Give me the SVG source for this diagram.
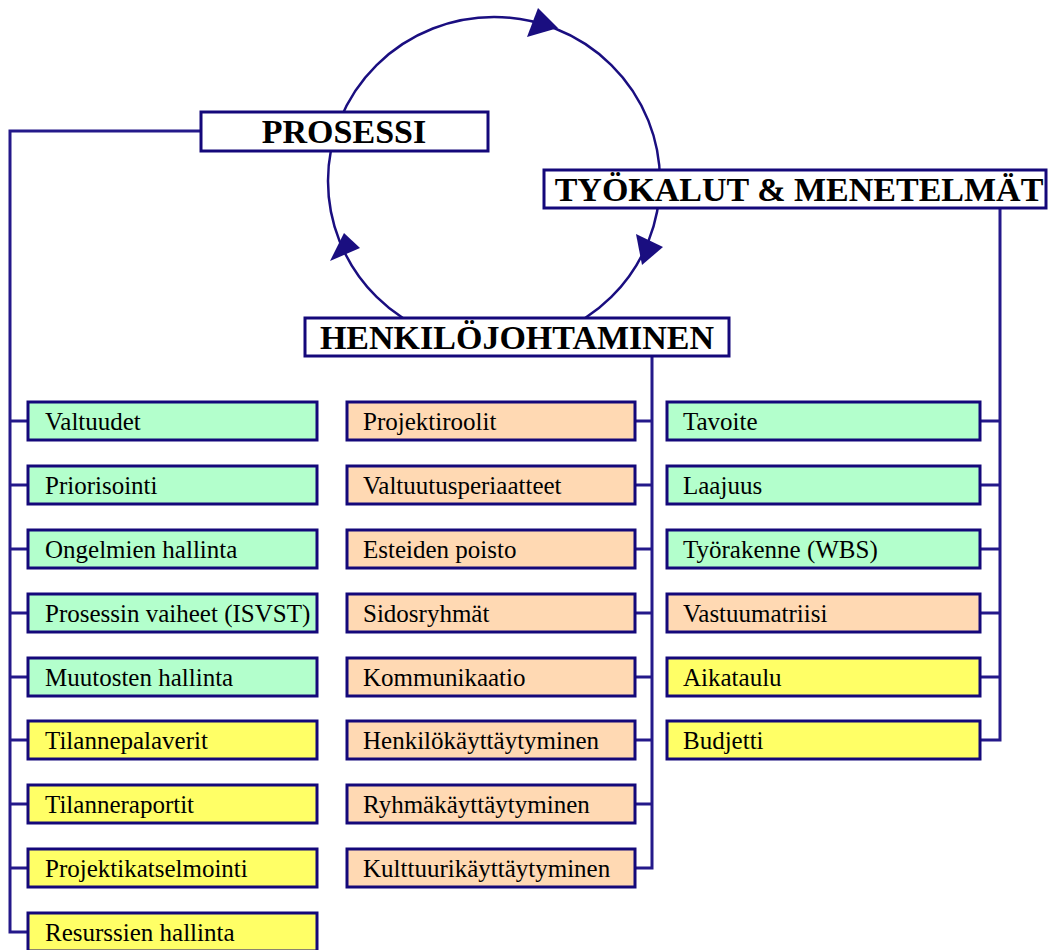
<svg xmlns="http://www.w3.org/2000/svg" width="1049" height="950" viewBox="0 0 1049 950">
<style>
.bg{fill:#ffffff}
.cyc{fill:none;stroke:#1a0e80;stroke-width:2.5}
.ah{fill:#1a0e80}
.hdr{fill:#ffffff;stroke:#14087a;stroke-width:3}
.ht{font-family:"Liberation Serif",serif;font-weight:bold;font-size:34px;fill:#000000;text-anchor:middle}
.box{stroke:#14087a;stroke-width:3}
.g{fill:#b3ffcc}
.p{fill:#ffd9b3}
.y{fill:#ffff66}
.t{font-family:"Liberation Serif",serif;font-size:25px;fill:#000000}
.con{fill:none;stroke:#24198a;stroke-width:3}
</style>
<rect class="bg" x="0" y="0" width="1049" height="950"/>
<g id="cycle">
<ellipse class="cyc" cx="494" cy="181" rx="166" ry="164"/>
<polygon class="ah" points="558,28 538,8 527,37"/>
<polygon class="ah" points="642,265 636,234 663,247"/>
<polygon class="ah" points="344,233 330,261 360,248"/>
</g>
<g id="connectors">
<polyline class="con" points="201,131 10,131 10,932 28,932"/>
<line class="con" x1="10" y1="421" x2="28" y2="421"/>
<line class="con" x1="10" y1="485" x2="28" y2="485"/>
<line class="con" x1="10" y1="549" x2="28" y2="549"/>
<line class="con" x1="10" y1="613" x2="28" y2="613"/>
<line class="con" x1="10" y1="677" x2="28" y2="677"/>
<line class="con" x1="10" y1="740" x2="28" y2="740"/>
<line class="con" x1="10" y1="804" x2="28" y2="804"/>
<line class="con" x1="10" y1="868" x2="28" y2="868"/>
<polyline class="con" points="652,357 652,868 635,868"/>
<line class="con" x1="635" y1="421" x2="652" y2="421"/>
<line class="con" x1="635" y1="485" x2="652" y2="485"/>
<line class="con" x1="635" y1="549" x2="652" y2="549"/>
<line class="con" x1="635" y1="613" x2="652" y2="613"/>
<line class="con" x1="635" y1="677" x2="652" y2="677"/>
<line class="con" x1="635" y1="740" x2="652" y2="740"/>
<line class="con" x1="635" y1="804" x2="652" y2="804"/>
<polyline class="con" points="1000,209 1000,740 980,740"/>
<line class="con" x1="980" y1="421" x2="1000" y2="421"/>
<line class="con" x1="980" y1="485" x2="1000" y2="485"/>
<line class="con" x1="980" y1="549" x2="1000" y2="549"/>
<line class="con" x1="980" y1="613" x2="1000" y2="613"/>
<line class="con" x1="980" y1="677" x2="1000" y2="677"/>
</g>
<g id="prosessi"><rect class="hdr" x="201" y="112" width="287" height="39"/><text class="ht" x="344" y="143">PROSESSI</text></g>
<g id="tyokalut"><rect class="hdr" x="544" y="170" width="502" height="38"/><text class="ht" x="799" y="201">TYÖKALUT &amp; MENETELMÄT</text></g>
<g id="henkilo"><rect class="hdr" x="305" y="318" width="424" height="38"/><text class="ht" x="517" y="349">HENKILÖJOHTAMINEN</text></g>

<g id="valtuudet"><rect class="box g" x="28" y="402" width="289" height="38"/><text class="t" x="45" y="430">Valtuudet</text></g>
<g id="priorisointi"><rect class="box g" x="28" y="466" width="289" height="38"/><text class="t" x="45" y="494">Priorisointi</text></g>
<g id="ongelmien"><rect class="box g" x="28" y="530" width="289" height="38"/><text class="t" x="45" y="558">Ongelmien hallinta</text></g>
<g id="prosessin"><rect class="box g" x="28" y="594" width="289" height="38"/><text class="t" x="45" y="622">Prosessin vaiheet (ISVST)</text></g>
<g id="muutosten"><rect class="box g" x="28" y="658" width="289" height="38"/><text class="t" x="45" y="686">Muutosten hallinta</text></g>
<g id="tilannepalaverit"><rect class="box y" x="28" y="721" width="289" height="38"/><text class="t" x="45" y="749">Tilannepalaverit</text></g>
<g id="tilanneraportit"><rect class="box y" x="28" y="785" width="289" height="38"/><text class="t" x="45" y="813">Tilanneraportit</text></g>
<g id="projektikatselmointi"><rect class="box y" x="28" y="849" width="289" height="38"/><text class="t" x="45" y="877">Projektikatselmointi</text></g>
<g id="resurssien"><rect class="box y" x="28" y="913" width="289" height="38"/><text class="t" x="45" y="941">Resurssien hallinta</text></g>

<g id="projektiroolit"><rect class="box p" x="347" y="402" width="288" height="38"/><text class="t" x="363" y="430">Projektiroolit</text></g>
<g id="valtuutusperiaatteet"><rect class="box p" x="347" y="466" width="288" height="38"/><text class="t" x="363" y="494">Valtuutusperiaatteet</text></g>
<g id="esteiden"><rect class="box p" x="347" y="530" width="288" height="38"/><text class="t" x="363" y="558">Esteiden poisto</text></g>
<g id="sidosryhmat"><rect class="box p" x="347" y="594" width="288" height="38"/><text class="t" x="363" y="622">Sidosryhmät</text></g>
<g id="kommunikaatio"><rect class="box p" x="347" y="658" width="288" height="38"/><text class="t" x="363" y="686">Kommunikaatio</text></g>
<g id="henkilokayttaytyminen"><rect class="box p" x="347" y="721" width="288" height="38"/><text class="t" x="363" y="749">Henkilökäyttäytyminen</text></g>
<g id="ryhmakayttaytyminen"><rect class="box p" x="347" y="785" width="288" height="38"/><text class="t" x="363" y="813">Ryhmäkäyttäytyminen</text></g>
<g id="kulttuurikayttaytyminen"><rect class="box p" x="347" y="849" width="288" height="38"/><text class="t" x="363" y="877">Kulttuurikäyttäytyminen</text></g>

<g id="tavoite"><rect class="box g" x="667" y="402" width="313" height="38"/><text class="t" x="683" y="430">Tavoite</text></g>
<g id="laajuus"><rect class="box g" x="667" y="466" width="313" height="38"/><text class="t" x="683" y="494">Laajuus</text></g>
<g id="tyorakenne"><rect class="box g" x="667" y="530" width="313" height="38"/><text class="t" x="683" y="558">Työrakenne (WBS)</text></g>
<g id="vastuumatriisi"><rect class="box p" x="667" y="594" width="313" height="38"/><text class="t" x="683" y="622">Vastuumatriisi</text></g>
<g id="aikataulu"><rect class="box y" x="667" y="658" width="313" height="38"/><text class="t" x="683" y="686">Aikataulu</text></g>
<g id="budjetti"><rect class="box y" x="667" y="721" width="313" height="38"/><text class="t" x="683" y="749">Budjetti</text></g>
</svg>
